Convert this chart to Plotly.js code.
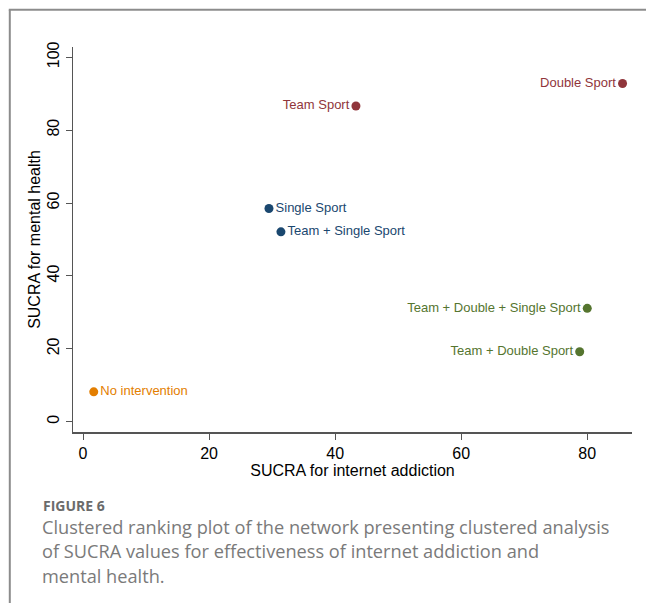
<!DOCTYPE html>
<html>
<head>
<meta charset="utf-8">
<script src="https://cdn.plot.ly/plotly-3.0.1.min.js"></script>
<style>
  html, body { margin: 0; padding: 0; background: #fff; }
  #chart { width: 646px; height: 603px; }
</style>
</head>
<body>
<div id="chart"></div>
<script>
// ---- Data ----
const treatments = ['Double Sport', 'Team Sport', 'Single Sport', 'Team + Single Sport',
                    'Team + Double + Single Sport', 'Team + Double Sport', 'No intervention'];
const sucraInternetAddiction = [85.6, 43.3, 29.5, 31.4, 80.0, 78.8, 1.7];
const sucraMentalHealth      = [92.8, 86.6, 58.5, 52.1, 31.1, 19.2, 8.2];
const clusterOf = [1, 1, 2, 2, 3, 3, 4];
const xTicks = [0, 20, 40, 60, 80];
const yTicks = [0, 20, 40, 60, 80, 100];
const xTitle = 'SUCRA for internet addiction';
const yTitle = 'SUCRA for mental health';
const figureLabel = 'FIGURE 6';
const captionLines = [
  'Clustered ranking plot of the network presenting clustered analysis',
  'of SUCRA values for effectiveness of internet addiction and',
  'mental health.'
];

// ---- Styles ----
const clusterColors = {1: '#90353b', 2: '#1a476f', 3: '#55752f', 4: '#e37e00'};
const clusterTextPos = {1: 'middle left', 2: 'middle right', 3: 'middle left', 4: 'middle right'};
const plotFont = 'Liberation Sans, Arial, Helvetica, sans-serif';

// plot area in pixels
const L = 72.7, R = 631.7, T = 46.7, B = 432;
const W = 646, H = 603;
const px2x = p => (p - L) / (R - L);
const px2y = p => (B - p) / (B - T);

const traces = [1, 2, 3, 4].map(c => {
  const idx = clusterOf.map((k, i) => k === c ? i : -1).filter(i => i >= 0);
  return {
    type: 'scatter',
    mode: 'markers+text',
    x: idx.map(i => sucraInternetAddiction[i]),
    y: idx.map(i => sucraMentalHealth[i]),
    text: idx.map(i => treatments[i]),
    textposition: clusterTextPos[c],
    textfont: {family: plotFont, size: 13, color: clusterColors[c]},
    marker: {size: 9, color: clusterColors[c]},
    cliponaxis: false,
    hoverinfo: 'x+y+text',
    showlegend: false
  };
});

const frameColor = '#8c8c8c';
const layout = {
  width: W, height: H,
  margin: {l: L, r: W - R, t: T, b: H - B, pad: 0},
  paper_bgcolor: '#fff', plot_bgcolor: '#fff',
  showlegend: false,
  xaxis: {
    range: [-1.59, 87.1],
    tickvals: xTicks,
    ticks: 'outside', ticklen: 6, tickwidth: 1, tickcolor: '#555',
    showline: true, linecolor: '#555', linewidth: 1.5,
    showgrid: false, zeroline: false,
    tickfont: {family: plotFont, size: 16, color: '#000'},
    title: {text: xTitle, font: {family: plotFont, size: 16, color: '#000'}, standoff: 0}
  },
  yaxis: {
    range: [-2.82, 102.8],
    tickvals: yTicks,
    tickangle: -90,
    ticks: 'outside', ticklen: 6, tickwidth: 1, tickcolor: '#555',
    showline: true, linecolor: '#555', linewidth: 1.5,
    showgrid: false, zeroline: false,
    tickfont: {family: plotFont, size: 16, color: '#000'},
    title: {text: yTitle, font: {family: plotFont, size: 16, color: '#000'}, standoff: 0}
  },
  shapes: [
    {type: 'line', xref: 'paper', yref: 'paper', x0: px2x(9.5), x1: px2x(9.5), y0: px2y(9.5), y1: px2y(H + 2),
     line: {color: frameColor, width: 2}},
    {type: 'line', xref: 'paper', yref: 'paper', x0: px2x(8.5), x1: px2x(W + 2), y0: px2y(9.5), y1: px2y(9.5),
     line: {color: frameColor, width: 2}}
  ],
  annotations: [
    {xref: 'paper', yref: 'paper', x: px2x(41), y: px2y(494), xanchor: 'left', yanchor: 'top',
     text: '<b>' + figureLabel + '</b>', showarrow: false,
     font: {family: 'Open Sans, sans-serif', size: 14, color: '#6b6b6b'}}
  ].concat(captionLines.map((t, i) => ({
    xref: 'paper', yref: 'paper', x: px2x(40), y: px2y(513 + i * 24.5), xanchor: 'left', yanchor: 'top',
    text: t, showarrow: false,
    font: {family: 'Open Sans, sans-serif', size: 18.2, color: '#7a7a7a'}
  })))
};

Plotly.newPlot('chart', traces, layout, {displayModeBar: false, staticPlot: true});
</script>
</body>
</html>
